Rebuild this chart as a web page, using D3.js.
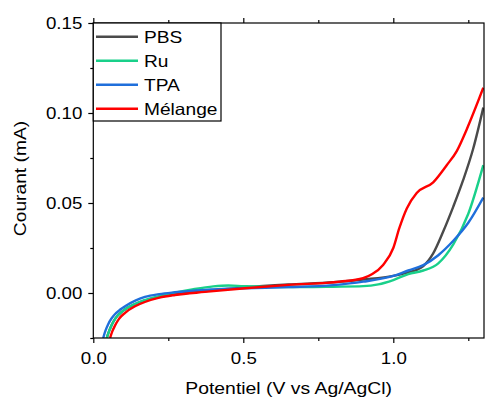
<!DOCTYPE html>
<html><head><meta charset="utf-8">
<script src="https://cdn.jsdelivr.net/npm/d3@7/dist/d3.min.js"></script>
<style>body{margin:0;background:#fff;}svg{display:block;font-family:Arial,"Liberation Sans",sans-serif;}</style>
</head><body><svg id="c" width="485" height="399"></svg>
<script>
const seriesNames = ["PBS", "Ru", "TPA", "Mélange"];
const seriesColors = ["#4a4a4a", "#19d08a", "#1f6fdb", "#ff0000"];
const pbsX = [0.045,0.052,0.062,0.075,0.1,0.14,0.17,0.22,0.27,0.37,0.5,0.65,0.8,0.9,1.0,1.05,1.08,1.1,1.133,1.166,1.2,1.233,1.266,1.3];
const pbsY = [-0.025,-0.0215,-0.0175,-0.0138,-0.0098,-0.0062,-0.0043,-0.0022,-0.0008,0.001,0.003,0.0047,0.006,0.0075,0.0095,0.0115,0.013,0.015,0.022,0.034,0.048,0.0628,0.08,0.103];
const ruX = [0.045,0.052,0.062,0.075,0.1,0.14,0.17,0.22,0.25,0.33,0.4,0.45,0.5,0.6,0.7,0.8,0.9,0.95,1.0,1.05,1.1,1.15,1.2,1.25,1.3];
const ruY = [-0.025,-0.0215,-0.0175,-0.0138,-0.0098,-0.006,-0.004,-0.0017,-0.0005,0.002,0.0037,0.0042,0.0038,0.0033,0.0033,0.0035,0.0038,0.0048,0.0072,0.0105,0.0125,0.0165,0.027,0.044,0.071];
const tpaX = [0.033,0.04,0.05,0.06,0.072,0.09,0.106,0.14,0.172,0.22,0.272,0.372,0.5,0.65,0.8,0.9,1.0,1.05,1.1,1.15,1.2,1.25,1.3];
const tpaY = [-0.025,-0.0212,-0.0172,-0.0143,-0.0118,-0.0092,-0.0073,-0.0042,-0.0022,-0.0006,0.0004,0.0017,0.0026,0.0033,0.0044,0.0063,0.0095,0.0125,0.0155,0.021,0.029,0.039,0.053];
const melX = [0.056,0.063,0.072,0.085,0.106,0.139,0.172,0.22,0.272,0.372,0.506,0.65,0.822,0.899,0.93,0.966,1.0,1.02,1.045,1.078,1.133,1.178,1.212,1.245,1.3];
const melY = [-0.025,-0.0215,-0.0182,-0.0145,-0.011,-0.0074,-0.005,-0.0026,-0.0011,0.0006,0.0026,0.0045,0.0063,0.0082,0.0105,0.0156,0.025,0.036,0.047,0.0555,0.0615,0.071,0.079,0.091,0.114];
const xTicks = [0.0, 0.5, 1.0];
const xMinor = [0.25, 0.75, 1.25];
const yTicks = [0.00, 0.05, 0.10, 0.15];
const yMinor = [-0.025, 0.025, 0.075, 0.125];

const seriesX = [pbsX, ruX, tpaX, melX];
const seriesY = [pbsY, ruY, tpaY, melY];

const L = 93.3, R = 484, T = 23, B = 338;
const x = d3.scaleLinear().domain([0, 1.3]).range([L, L + 1.3 * 300]);
const y = d3.scaleLinear().domain([-0.025, 0.15]).range([B, T]);
const svg = d3.select("#c");

function stretch(sel, s) {
  sel.each(function () {
    const len = this.getComputedTextLength();
    d3.select(this).attr("textLength", len * s).attr("lengthAdjust", "spacingAndGlyphs");
  });
}

svg.append("defs").append("clipPath").attr("id", "clip")
  .append("rect").attr("x", L).attr("y", T).attr("width", R - L).attr("height", B - T);

const line = d3.line().x(d => x(d[0])).y(d => y(d[1])).curve(d3.curveMonotoneX);
const g = svg.append("g").attr("clip-path", "url(#clip)");
seriesNames.forEach((n, i) => {
  const pts = seriesX[i].map((v, j) => [v, seriesY[i][j]]);
  g.append("path").datum(pts).attr("d", line).attr("fill", "none")
    .attr("stroke", seriesColors[i]).attr("stroke-width", 2.4).attr("stroke-linejoin", "round");
});

// frame
svg.append("rect").attr("x", L).attr("y", T).attr("width", R - L).attr("height", B - T)
  .attr("fill", "none").attr("stroke", "#000").attr("stroke-width", 1.2);

const fs = 17;
const ff = "Arial,'Liberation Sans',sans-serif";
// bottom axis
const xb = svg.append("g").attr("transform", `translate(0,${B})`)
  .call(d3.axisBottom(x).tickValues(xTicks).tickFormat(d3.format(".1f")).tickSize(5).tickPadding(9));
xb.select(".domain").remove();
xb.selectAll("text").attr("font-size", fs).attr("font-family", ff).attr("fill", "#000");
xb.selectAll("line").attr("stroke-width", 1.2);
stretch(xb.selectAll("text"), 1.1);
const xbm = svg.append("g").attr("transform", `translate(0,${B})`)
  .call(d3.axisBottom(x).tickValues(xMinor).tickFormat("").tickSize(3));
xbm.select(".domain").remove(); xbm.selectAll("line").attr("stroke-width", 1.2);
// top axis ticks
const xt = svg.append("g").attr("transform", `translate(0,${T})`)
  .call(d3.axisTop(x).tickValues(xTicks).tickFormat("").tickSize(5));
xt.select(".domain").remove(); xt.selectAll("line").attr("stroke-width", 1.2);
const xtm = svg.append("g").attr("transform", `translate(0,${T})`)
  .call(d3.axisTop(x).tickValues(xMinor).tickFormat("").tickSize(3));
xtm.select(".domain").remove(); xtm.selectAll("line").attr("stroke-width", 1.2);
// left axis
const yl = svg.append("g").attr("transform", `translate(${L},0)`)
  .call(d3.axisLeft(y).tickValues(yTicks).tickFormat(d3.format(".2f")).tickSize(5).tickPadding(6));
yl.select(".domain").remove();
yl.selectAll("text").attr("font-size", fs).attr("font-family", ff).attr("fill", "#000");
yl.selectAll("line").attr("stroke-width", 1.2);
stretch(yl.selectAll("text"), 1.1);
const ylm = svg.append("g").attr("transform", `translate(${L},0)`)
  .call(d3.axisLeft(y).tickValues(yMinor).tickFormat("").tickSize(3));
ylm.select(".domain").remove(); ylm.selectAll("line").attr("stroke-width", 1.2);

// titles
const xTitle = svg.append("text").attr("x", (L + R) / 2).attr("y", 394).attr("text-anchor", "middle")
  .attr("font-size", 17).text("Potentiel (V vs Ag/AgCl)");
stretch(xTitle, 1.14);
const yTitle = svg.append("text").attr("transform", `translate(26,${(T + B) / 2 - 2}) rotate(-90)`).attr("text-anchor", "middle")
  .attr("font-size", 17).text("Courant (mA)");
stretch(yTitle, 1.13);

// legend
const lg = svg.append("g");
lg.append("rect").attr("x", L).attr("y", T).attr("width", 221 - L).attr("height", 121 - T)
  .attr("fill", "#fff").attr("stroke", "#000").attr("stroke-width", 1.2);
seriesNames.forEach((n, i) => {
  const by = 42.7 + i * 24;
  lg.append("line").attr("x1", 96).attr("x2", 138).attr("y1", by - 6).attr("y2", by - 6)
    .attr("stroke", seriesColors[i]).attr("stroke-width", 2.4);
  const t = lg.append("text").attr("x", 144).attr("y", by).attr("font-size", 16.5).text(n);
  stretch(t, 1.16);
});
</script></body></html>
